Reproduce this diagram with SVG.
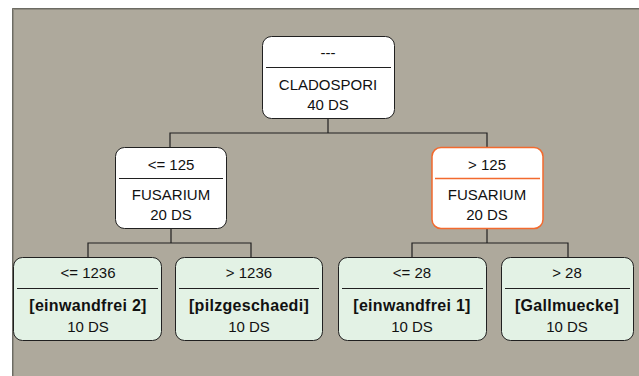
<svg xmlns="http://www.w3.org/2000/svg" width="639" height="376" viewBox="0 0 639 376">
<style>
.bg{fill:#aea99c}
.node{fill:#ffffff;stroke:#202020;stroke-width:1}
.sel{fill:#ffffff;stroke:#f26a2e;stroke-width:1.5}
.leaf{fill:#e3f2e5;stroke:#202020;stroke-width:1}
.div{stroke:#202020;stroke-width:1}
.divsel{stroke:#f26a2e;stroke-width:1.5}
.con{stroke:#202020;stroke-width:1.2;fill:none}
text{font-family:"Liberation Sans",Arial,sans-serif;font-size:15px;fill:#111;text-anchor:middle}
.b{font-weight:bold;font-size:16px;letter-spacing:0.3px}
</style>
<rect x="0" y="0" width="639" height="376" fill="#ffffff"/>
<rect class="bg" x="12" y="8" width="627" height="368"/>
<path d="M12.5 376V8.5H639" stroke="#6c6b63" stroke-width="1" fill="none"/>
<path d="M13.5 376V9.5H639" stroke="#8f8b80" stroke-width="1" fill="none"/>
<g id="connectors">
<path class="con" d="M328 119V133M170 147V133H487V147"/>
<path class="con" d="M171 229V243M88 257V243H251V257"/>
<path class="con" d="M487 229V243M412 257V243H568V257"/>
</g>
<g id="root">
<rect class="node" x="262.5" y="36.5" width="132" height="82" rx="9"/>
<line class="div" x1="266" y1="67.5" x2="391" y2="67.5"/>
<text x="328" y="58">---</text>
<text x="328" y="89.5">CLADOSPORI</text>
<text x="328" y="110">40 DS</text>
</g>
<g id="n_le125">
<rect class="node" x="115.5" y="147.5" width="111" height="81" rx="9"/>
<line class="div" x1="119" y1="178.5" x2="223" y2="178.5"/>
<text x="171" y="170">&lt;= 125</text>
<text x="171" y="200">FUSARIUM</text>
<text x="171" y="220">20 DS</text>
</g>
<g id="n_gt125">
<rect class="sel" x="432" y="147.5" width="111" height="81" rx="9"/>
<line class="divsel" x1="435" y1="178.5" x2="540" y2="178.5"/>
<text x="487" y="170">&gt; 125</text>
<text x="487" y="200">FUSARIUM</text>
<text x="487" y="220">20 DS</text>
</g>
<g id="leaf1">
<rect class="leaf" x="13.5" y="257.5" width="148" height="83" rx="9"/>
<line class="div" x1="17" y1="288.5" x2="158" y2="288.5"/>
<text x="88" y="278">&lt;= 1236</text>
<text class="b" x="88" y="311">[einwandfrei 2]</text>
<text x="88" y="332">10 DS</text>
</g>
<g id="leaf2">
<rect class="leaf" x="175.5" y="257.5" width="147" height="83" rx="9"/>
<line class="div" x1="179" y1="288.5" x2="319" y2="288.5"/>
<text x="249" y="278">&gt; 1236</text>
<text class="b" x="249" y="311">[pilzgeschaedi]</text>
<text x="249" y="332">10 DS</text>
</g>
<g id="leaf3">
<rect class="leaf" x="338.5" y="257.5" width="148" height="83" rx="9"/>
<line class="div" x1="342" y1="288.5" x2="483" y2="288.5"/>
<text x="412" y="278">&lt;= 28</text>
<text class="b" x="412" y="311">[einwandfrei 1]</text>
<text x="412" y="332">10 DS</text>
</g>
<g id="leaf4">
<rect class="leaf" x="501.5" y="257.5" width="132" height="83" rx="9"/>
<line class="div" x1="505" y1="288.5" x2="630" y2="288.5"/>
<text x="567" y="278">&gt; 28</text>
<text class="b" x="567" y="311">[Gallmuecke]</text>
<text x="567" y="332">10 DS</text>
</g>
</svg>
